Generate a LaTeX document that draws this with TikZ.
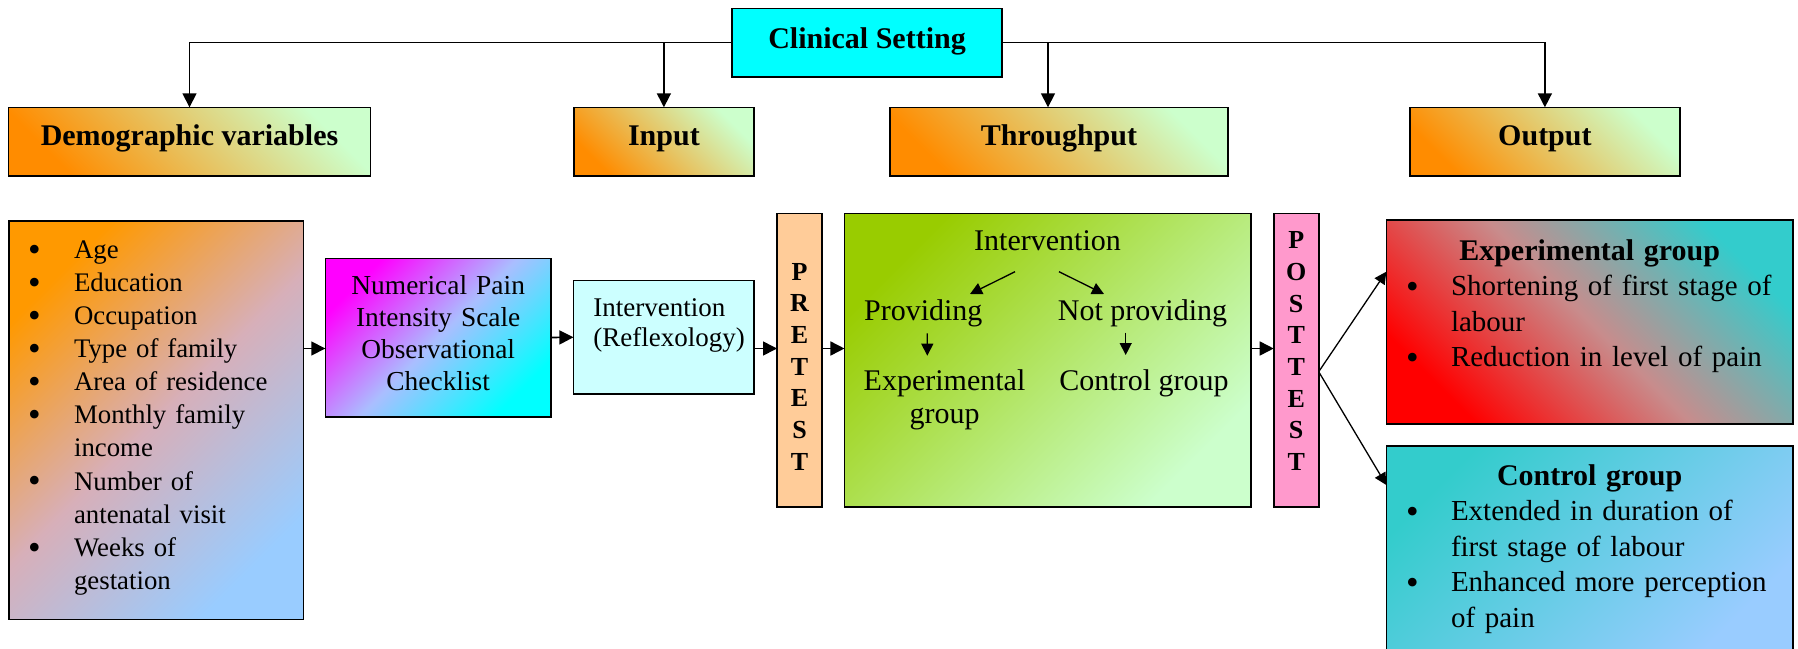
\documentclass[tikz,border=0pt]{standalone}
\usepackage{fontspec}
\setmainfont{Liberation Serif}
\usetikzlibrary{arrows.meta,calc,positioning}

\definecolor{cscyan}{RGB}{0,255,255}
\definecolor{hdorange}{RGB}{255,140,0}
\definecolor{hdgreen}{RGB}{204,255,204}
\definecolor{lsorange}{RGB}{255,153,0}
\definecolor{lspink}{RGB}{215,175,185}
\definecolor{lsblue}{RGB}{153,204,255}
\definecolor{nmmagenta}{RGB}{255,0,255}
\definecolor{nmlav}{RGB}{170,190,255}
\definecolor{nmcyan}{RGB}{0,255,255}
\definecolor{rfcyan}{RGB}{204,255,255}
\definecolor{prepeach}{RGB}{255,204,153}
\definecolor{gnolive}{RGB}{153,204,0}
\definecolor{gnlight}{RGB}{204,255,204}
\definecolor{postpink}{RGB}{255,153,204}
\definecolor{opteal}{RGB}{51,204,204}
\definecolor{opgrey}{RGB}{200,140,140}
\definecolor{opred}{RGB}{255,0,0}
\definecolor{opblue}{RGB}{153,204,255}

\newcommand\bigbul{\raisebox{-1.4pt}{\fontsize{18}{18}\selectfont\textbullet}}
\newcommand\bul{\leavevmode\llap{\bigbul\hspace{16.7pt}}}
\newcommand\obul{\leavevmode\llap{\bigbul\hspace{16.1pt}}}

\tikzset{
  box/.style={draw=black, line width=0.8pt, inner sep=0pt, outer sep=0pt},
  headbox/.style={box, text height=18.85pt, text depth=15.35pt,
    font=\fontsize{15}{17}\selectfont\bfseries,
    top color=hdgreen, bottom color=hdorange, shading angle=-45},
  testbox/.style={box, text width=22.5pt, align=center,
    font=\fontsize{13}{15.85}\selectfont\bfseries},
  outbox/.style={box, text width=203.35pt, align=left,
    font=\fontsize{14.5}{17.75}\selectfont},
  gtext/.style={inner sep=0pt, font=\fontsize{15}{16.65}\selectfont},
  arr/.style={line width=0.8pt, -{Triangle[length=7pt,width=7pt]}},
  sarr/.style={line width=0.65pt, -{Triangle[length=6pt,width=6pt]}},
}

\begin{document}
\begin{tikzpicture}[x=0.5pt,y=-0.5pt]
\useasboundingbox (0,0) rectangle (1798,648);

% top row
\node[box, fill=cscyan, minimum width=135pt, text height=20pt, text depth=14.2pt,
  font=\fontsize{15}{17}\selectfont\bfseries] (cs) at (867,42.5) {Clinical Setting};
\node[headbox, minimum width=180.85pt] (dv) at (189.5,141.5) {Demographic variables};
\node[headbox, minimum width=89.85pt] (inp) at (663.9,141.5) {Input};
\node[headbox, minimum width=169.2pt] (tp) at (1059,141.5) {Throughput};
\node[headbox, minimum width=135.15pt] (op) at (1544.9,141.5) {Output};

\draw[arr] (cs.west) -| (dv.north);
\draw[arr] (cs.west -| inp.north) -- (inp.north);
\draw[arr] (cs.east) -| ([xshift=-5.5pt]tp.north);
\draw[arr] (cs.east) -| (op.north);

% input side
\node[box, top color=lsorange, bottom color=lsblue, middle color=lspink, shading angle=45,
  text width=147.15pt, align=left, text height=18.8pt, text depth=180.5pt,
  font=\fontsize{13.4}{16.55}\selectfont] (demo) at (156.2,420)
  {\leftskip=32.5pt
   \bul Age\\ \bul Education\\ \bul Occupation\\ \bul Type of family\\
   \bul Area of residence\\ \bul Monthly family\\ income\\ \bul Number of\\
   antenatal visit\\ \bul Weeks of\\ gestation\par};
\node[box, top color=nmmagenta, bottom color=nmcyan, middle color=nmlav, shading angle=45,
  text width=112.9pt, align=center, text height=18pt, text depth=61.2pt,
  font=\fontsize{13.7}{16}\selectfont] (num) at (438.2,337.5)
  {Numerical Pain\\Intensity Scale\\Observational\\Checklist};
\node[box, fill=rfcyan, text width=90.4pt, align=left, text height=18pt, text depth=38.65pt,
  font=\fontsize{13.5}{15}\selectfont] (refl) at (663.8,337.3)
  {\leftskip=10pt Intervention\\(Reflexology)\par};
\node[testbox, fill=prepeach, text height=33.35pt, text depth=113.35pt] (pre)
  at (799.5,360) {P\\R\\E\\T\\E\\S\\T};

% throughput
\node[box, minimum width=203.35pt, minimum height=146.7pt,
  top color=gnolive, bottom color=gnlight, shading angle=45] (grn) at (1047.8,360) {};
\node[gtext, anchor=base] (intv) at (1047.5,250.7) {Intervention};
\node[gtext, anchor=base] (prov) at (923.3,320) {Providing};
\node[gtext, anchor=base] (notp) at (1142.5,320) {Not providing};
\node[gtext, anchor=base, text width=82pt, align=center] (expg) at (944.5,390) {Experimental\\group};
\node[gtext, anchor=base] (ctlg) at (1144,390) {Control group};
\draw[sarr] ($(intv.base)+(-32.5,21)$) -- ($(prov.base)+(46.7,-26)$);
\draw[sarr] ($(intv.base)+(11.5,21)$) -- ($(notp.base)+(-38.5,-26)$);
\draw[sarr] ($(prov.base)+(4,13.3)$) -- ($(expg.base)+(-17.2,-34.3)$);
\draw[sarr] ($(notp.base)+(-16.8,12.7)$) -- ($(ctlg.base)+(-18.3,-35)$);

\node[testbox, fill=postpink, text height=17.65pt, text depth=129.05pt] (post)
  at (1296.2,360) {P\\O\\S\\T\\T\\E\\S\\T};

% output
\node[outbox, top color=opteal, bottom color=opred, middle color=opgrey, shading angle=-45,
  text height=20pt, text depth=82pt] (exp) at (1589.65,322)
  {{\centering\fontsize{15}{17.75}\selectfont\bfseries Experimental group\par}
   \leftskip=32.35pt \obul Shortening of first stage of\\ labour\\
   \obul Reduction in level of pain\par};
\node[outbox, top color=opteal, bottom color=opblue, shading angle=45,
  text height=19.5pt, text depth=83.5pt] (ctl) at (1589.65,549)
  {{\centering\fontsize{15}{17.75}\selectfont\bfseries Control group\par}
   \leftskip=32.35pt \obul Extended in duration of\\ first stage of labour\\
   \obul Enhanced more perception\\ of pain\par};

% connectors of the middle row
\coordinate (row) at (0,348.5);
\draw[arr] (demo.east |- row) -- (num.west |- row);
\draw[arr] (num.east) -- (refl.west);
\draw[arr] (refl.east |- row) -- (pre.west |- row);
\draw[arr] (pre.east |- row) -- (grn.west |- row);
\draw[arr] (grn.east |- row) -- (post.west |- row);
\coordinate (fork) at ($(post.east)+(0,11.7)$);
\draw[sarr] (fork) -- ($(exp.west)+(0,-50.3)$);
\draw[sarr] (fork) -- ($(ctl.north west)+(0,39)$);
\end{tikzpicture}
\end{document}
